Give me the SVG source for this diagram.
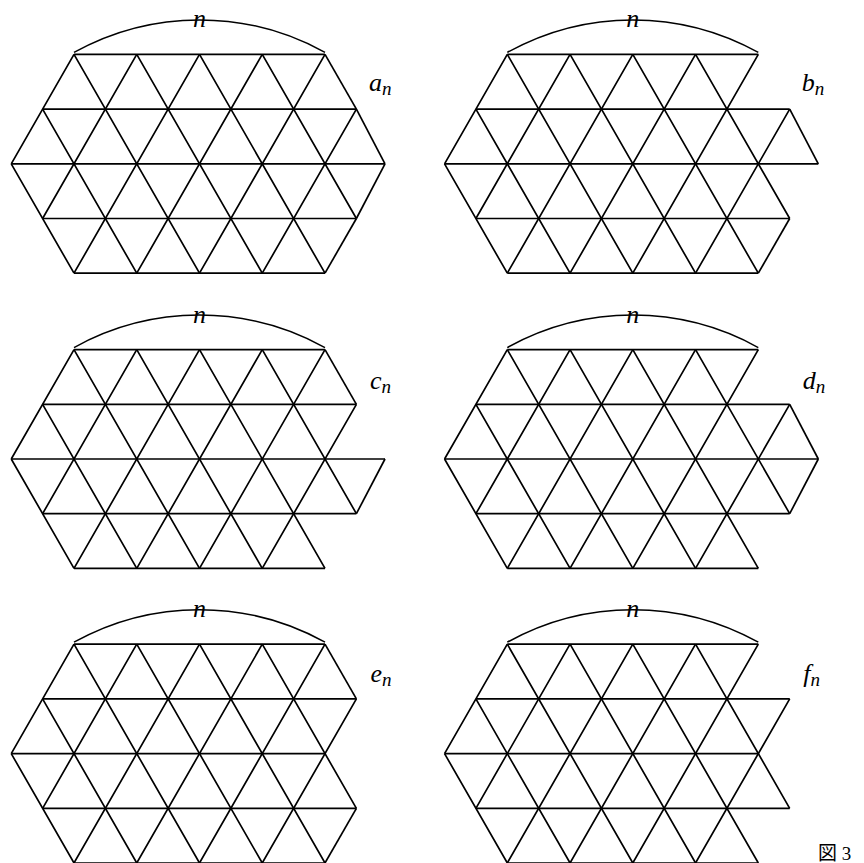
<svg xmlns="http://www.w3.org/2000/svg" xmlns:xlink="http://www.w3.org/1999/xlink" width="864" height="863" viewBox="0 0 864 863">
<style>
  .g { fill: none; stroke: #000; stroke-width: 1.7; }
  .arc { fill: none; stroke: #000; stroke-width: 1.5; }
  .m { font-family: 'Liberation Serif', 'Times New Roman', serif; font-style: italic; font-size: 26px; fill: #000; }
  .sub { font-size: 19px; }
</style>
<defs>
  <g id="base">
    <path class="g" d="M0 0H251 M-31.4 54.7H282.4 M-62.75 109.4H251 M-31.4 164.1H282.4 M0 218.8H251"/>
    <path class="g" d="M-62.75 109.4L0 218.8 M-31.4 54.7L62.75 218.8 M0 0L125.5 218.8 M62.75 0L188.25 218.8 M125.5 0L251 218.8 M188.25 0L282.4 164.1"/>
    <path class="g" d="M0 0L-62.75 109.4 M62.75 0L-31.4 164.1 M125.5 0L0 218.8 M188.25 0L62.75 218.8 M251 0L125.5 218.8 M282.4 54.7L188.25 218.8"/>
    <path class="arc" d="M0 -2A258.6 258.6 0 0 1 251 -2"/>
    <text class="m" x="125.5" y="-27" text-anchor="middle">n</text>
  </g>
  <path id="h2ext" class="g" d="M251 109.4H311"/>
  <path id="dr8a" class="g" d="M251 0L282.4 54.7"/>
  <path id="dr8b" class="g" d="M282.4 54.7L311 109.4"/>
  <path id="dl12a" class="g" d="M311 109.4L282.4 164.1"/>
  <path id="dl12b" class="g" d="M282.4 164.1L251 218.8"/>
</defs>

<g id="fig-a" transform="translate(74,54.4)">
  <use href="#base" xlink:href="#base"/>
  <g id="fig-a-edges">
    <use href="#h2ext" xlink:href="#h2ext"/>
    <use href="#dr8a" xlink:href="#dr8a"/>
    <use href="#dr8b" xlink:href="#dr8b"/>
    <use href="#dl12a" xlink:href="#dl12a"/>
    <use href="#dl12b" xlink:href="#dl12b"/>
  </g>
  <text class="m" x="295" y="36.5">a<tspan class="sub" dy="4">n</tspan></text>
</g>

<g id="fig-b" transform="translate(507.3,54.4)">
  <use href="#base" xlink:href="#base"/>
  <g id="fig-b-edges">
    <use href="#h2ext" xlink:href="#h2ext"/>
    <use href="#dr8b" xlink:href="#dr8b"/>
    <use href="#dl12b" xlink:href="#dl12b"/>
  </g>
  <text class="m" x="294.5" y="36.5">b<tspan class="sub" dy="4">n</tspan></text>
</g>

<g id="fig-c" transform="translate(74,349.6)">
  <use href="#base" xlink:href="#base"/>
  <g id="fig-c-edges">
    <use href="#h2ext" xlink:href="#h2ext"/>
    <use href="#dr8a" xlink:href="#dr8a"/>
    <use href="#dl12a" xlink:href="#dl12a"/>
  </g>
  <text class="m" x="296" y="39.5">c<tspan class="sub" dy="4">n</tspan></text>
</g>

<g id="fig-d" transform="translate(507.3,349.6)">
  <use href="#base" xlink:href="#base"/>
  <g id="fig-d-edges">
    <use href="#h2ext" xlink:href="#h2ext"/>
    <use href="#dr8b" xlink:href="#dr8b"/>
    <use href="#dl12a" xlink:href="#dl12a"/>
  </g>
  <text class="m" x="295.5" y="39.5">d<tspan class="sub" dy="4">n</tspan></text>
</g>

<g id="fig-e" transform="translate(74,644.2)">
  <use href="#base" xlink:href="#base"/>
  <g id="fig-e-edges">
    <use href="#dr8a" xlink:href="#dr8a"/>
    <use href="#dl12b" xlink:href="#dl12b"/>
  </g>
  <text class="m" x="296.5" y="37.5">e<tspan class="sub" dy="4">n</tspan></text>
</g>

<g id="fig-f" transform="translate(507.3,644.2)">
  <use href="#base" xlink:href="#base"/>
  <text class="m" x="296" y="37.5">f<tspan class="sub" dy="4">n</tspan></text>
</g>

<text id="caption" x="818" y="860" font-family="'Liberation Serif', 'Noto Sans CJK JP', serif" font-size="19" fill="#000" style="font-size:19px">図 3</text>
</svg>
